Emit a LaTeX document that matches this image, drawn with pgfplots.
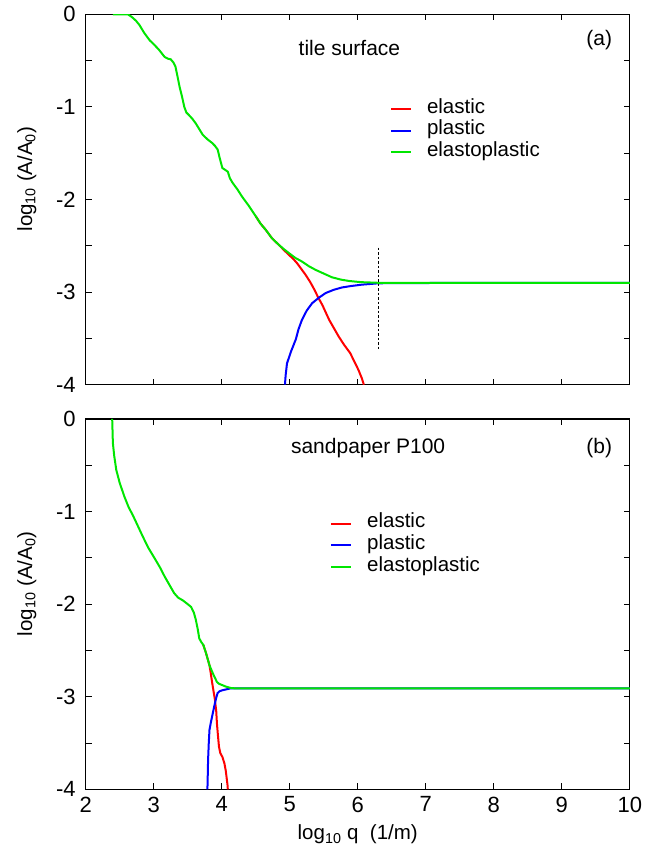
\documentclass[border=0pt]{standalone}
\usepackage{fontspec}
\setmainfont{Liberation Sans}
\usepackage{pgfplots}
\pgfplotsset{compat=1.18}
\usepgfplotslibrary{groupplots}
\definecolor{cred}{rgb}{1,0,0}
\definecolor{cblue}{rgb}{0,0,1}
\definecolor{cgreen}{RGB}{0,230,0}
\begin{document}
\begin{tikzpicture}
\begin{groupplot}[
  group style={group size=1 by 2, vertical sep=34.3pt,
    xticklabels at=edge bottom, xlabels at=edge bottom},
  width=544.3pt, height=370.5pt, scale only axis,
  xmin=2, xmax=10, ymin=-4, ymax=0,
  xtick={2,3,4,5,6,7,8,9,10},
  ytick={-4,-3,-2,-1,0},
  yticklabels={{-4},{-3},{-2},{-1},{0}},
  minor ytick={-3.5,-2.5,-1.5,-0.5},
  tick pos=both, tick align=inside,
  major tick length=6pt, minor tick length=6pt,
  every tick/.style={black, line width=0.9pt},
  axis line style={line width=1.2pt, black},
  tick label style={font=\fontsize{22}{26}\selectfont},
  yticklabel style={xshift=-6.5pt},
  xticklabel style={yshift=-4pt},
  label style={font=\fontsize{20.5}{24}\selectfont},
  ylabel={log\textsubscript{10} (A/A\textsubscript{0})},
  ylabel style={at={(axis description cs:-0.108,0.555)}, anchor=center},
  legend cell align=left,
  legend image code/.code={\draw[#1] (0pt,0pt) -- (20pt,0pt);},
  legend style={draw=none, fill=none, font=\fontsize{20.5}{22}\selectfont,
    row sep=0pt, inner sep=0pt, anchor=north west,
    nodes={inner sep=0pt, text height=15pt, text depth=6.7pt},
    /tikz/every odd column/.append style={column sep=15pt}},
  clip=true,
]
\nextgroupplot[xticklabels={}, legend style={at={(rel axis cs:0.559,0.774)}}]
\addplot[cred, line width=2pt] coordinates {
(4.50,-2.18) (4.57,-2.26) (4.65,-2.33) (4.74,-2.42) (4.84,-2.49) (4.92,-2.55) (4.99,-2.60) (5.05,-2.64) (5.11,-2.69) (5.17,-2.75) (5.23,-2.81) (5.30,-2.89) (5.36,-2.97) (5.42,-3.06) (5.48,-3.14) (5.53,-3.22) (5.58,-3.30) (5.65,-3.39) (5.72,-3.48) (5.80,-3.57) (5.89,-3.66) (5.95,-3.75) (6.01,-3.84) (6.06,-3.93) (6.09,-4.0)};
\addlegendentry{elastic}
\addplot[cblue, line width=2pt] coordinates {
(4.93,-4.0) (4.94,-3.9) (4.96,-3.77) (5.02,-3.64) (5.09,-3.51) (5.13,-3.40) (5.18,-3.30) (5.25,-3.20) (5.33,-3.12) (5.43,-3.06) (5.53,-3.01) (5.65,-2.975) (5.77,-2.95) (5.90,-2.935) (6.06,-2.92) (6.31,-2.905) (7.07,-2.902) (10,-2.90)};
\addlegendentry{plastic}
\addplot[cgreen, line width=2pt] coordinates {
(2.40,0) (2.62,0) (2.68,-0.03) (2.74,-0.07) (2.79,-0.115) (2.86,-0.2) (2.94,-0.28) (3.01,-0.33) (3.08,-0.385) (3.16,-0.46) (3.21,-0.48) (3.25,-0.486) (3.29,-0.52) (3.32,-0.565) (3.35,-0.67) (3.38,-0.78) (3.42,-0.9) (3.45,-1.0) (3.48,-1.06) (3.52,-1.09) (3.57,-1.13) (3.62,-1.18) (3.67,-1.24) (3.72,-1.30) (3.79,-1.35) (3.86,-1.39) (3.90,-1.42) (3.94,-1.46) (3.97,-1.55) (4.01,-1.66) (4.05,-1.68) (4.09,-1.70) (4.12,-1.77) (4.16,-1.82) (4.23,-1.89) (4.30,-1.97) (4.40,-2.07) (4.50,-2.18) (4.57,-2.26) (4.65,-2.33) (4.74,-2.42) (4.84,-2.49) (4.92,-2.54) (4.99,-2.58) (5.08,-2.63) (5.18,-2.67) (5.28,-2.72) (5.38,-2.76) (5.50,-2.80) (5.62,-2.84) (5.75,-2.865) (5.87,-2.88) (6.05,-2.893) (6.31,-2.90) (10,-2.90)};
\addlegendentry{elastoplastic}
\addplot[black, line width=0.8pt, dash pattern=on 2.5pt off 2pt, forget plot] coordinates {(6.31,-2.52) (6.31,-3.62)};
\node[anchor=west, font=\fontsize{21}{24}\selectfont] at (rel axis cs:0.385,0.909) {tile surface};
\node[anchor=east, font=\fontsize{21}{24}\selectfont] at (rel axis cs:0.974,0.931) {(a)};

\nextgroupplot[xticklabels={2,3,4,5,6,7,8,9,10},
  xlabel={log\textsubscript{10} q\ \ (1/m)},
  xlabel style={at={(axis description cs:0.5,-0.1225)}, anchor=center},
  legend style={at={(rel axis cs:0.449,0.747)}}]
\addplot[cred, line width=2pt] coordinates {
(3.73,-2.44) (3.77,-2.53) (3.82,-2.66) (3.84,-2.75) (3.86,-2.85) (3.88,-2.94) (3.90,-3.03) (3.92,-3.16) (3.93,-3.29) (3.945,-3.42) (3.96,-3.54) (3.98,-3.61) (4.01,-3.65) (4.04,-3.72) (4.06,-3.80) (4.07,-3.86) (4.085,-3.95) (4.09,-4.0)};
\addlegendentry{elastic}
\addplot[cblue, line width=2pt] coordinates {
(3.79,-4.0) (3.795,-3.85) (3.80,-3.68) (3.81,-3.50) (3.82,-3.36) (3.84,-3.28) (3.86,-3.21) (3.88,-3.14) (3.90,-3.07) (3.92,-3.01) (3.94,-2.96) (3.97,-2.94) (4.01,-2.93) (4.07,-2.92) (4.13,-2.91) (10,-2.91)};
\addlegendentry{plastic}
\addplot[cgreen, line width=2pt] coordinates {
(2.39,0) (2.40,-0.26) (2.42,-0.40) (2.45,-0.55) (2.50,-0.69) (2.57,-0.84) (2.63,-0.95) (2.70,-1.05) (2.77,-1.16) (2.84,-1.27) (2.92,-1.39) (3.01,-1.50) (3.09,-1.60) (3.16,-1.70) (3.23,-1.79) (3.30,-1.88) (3.36,-1.93) (3.43,-1.96) (3.50,-2.00) (3.55,-2.03) (3.59,-2.09) (3.62,-2.17) (3.65,-2.28) (3.67,-2.37) (3.70,-2.41) (3.73,-2.44) (3.77,-2.53) (3.82,-2.66) (3.86,-2.73) (3.89,-2.78) (3.93,-2.84) (3.96,-2.86) (4.01,-2.875) (4.06,-2.89) (4.13,-2.905) (4.2,-2.91) (10,-2.91)};
\addlegendentry{elastoplastic}
\node[anchor=west, font=\fontsize{21}{24}\selectfont] at (rel axis cs:0.371,0.922) {sandpaper P100};
\node[anchor=east, font=\fontsize{21}{24}\selectfont] at (rel axis cs:0.974,0.922) {(b)};
\end{groupplot}
\pgfresetboundingbox
\path ([shift={(-85.7pt,14.3pt)}]group c1r1.north west) rectangle ([shift={(27pt,-58.7pt)}]group c1r2.south east);
\end{tikzpicture}
\end{document}
